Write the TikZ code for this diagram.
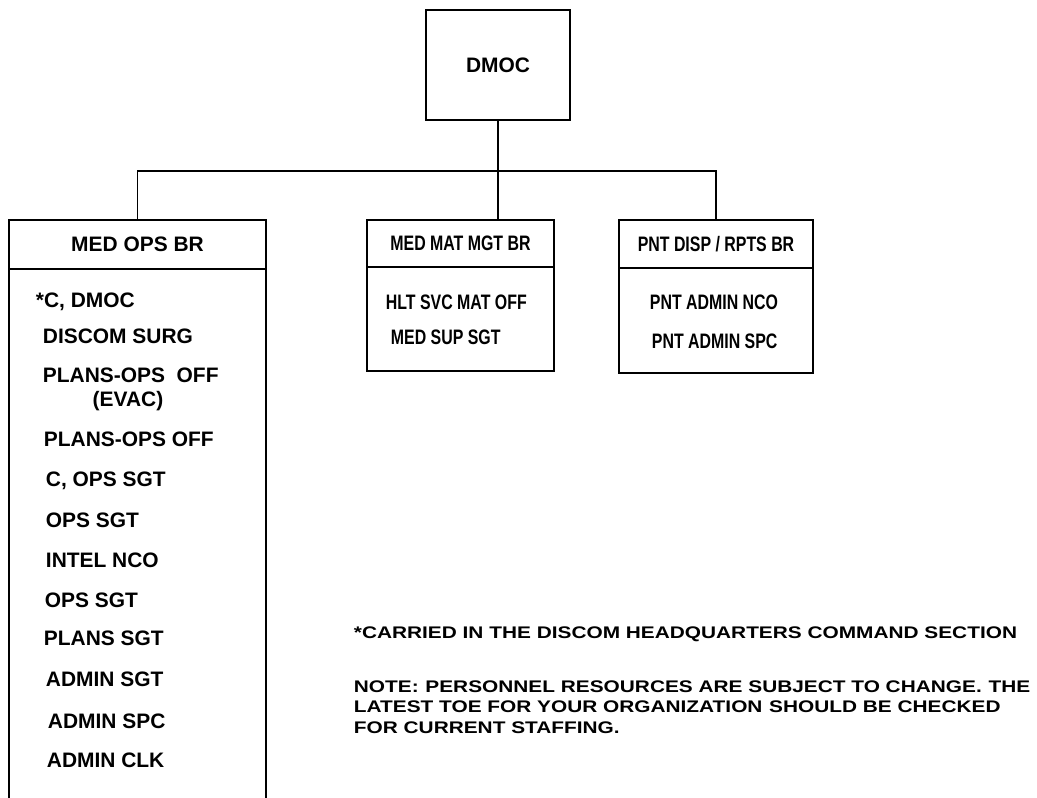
\documentclass[tikz,border=0pt]{standalone}
\usepackage{fontspec}
\setmainfont{Liberation Sans}
\newfontfamily\narrowsans{Liberation Sans}[FakeStretch=0.76]
\newfontfamily\widesans{Liberation Sans}[FakeStretch=1.24]
\usetikzlibrary{positioning}

\begin{document}
\begin{tikzpicture}[x=0.75pt,y=-0.75pt,line width=1.4pt,
  box/.style={draw,rectangle,inner sep=0pt,outer sep=0pt,align=center,
    font=\fontsize{15.7}{18}\selectfont\bfseries},
  narrowbox/.style={box,font=\narrowsans\fontsize{15.7}{18}\selectfont\bfseries},
  post/.style={anchor=base west,inner sep=0pt,font=\fontsize{15.7}{18}\selectfont\bfseries},
  narrowpost/.style={post,font=\narrowsans\fontsize{15.7}{18}\selectfont\bfseries},
  remark/.style={anchor=base west,inner sep=0pt,font=\widesans\fontsize{12.6}{15.4}\selectfont\bfseries}]
\useasboundingbox (0,0) rectangle (1037,798);

% head office
\node[box,minimum width=108pt,minimum height=82.5pt] (dmoc) at (498,65) {DMOC};

% branch headers
\node[box,minimum width=192.75pt,minimum height=36.75pt] (medops) at (137.5,244.5) {MED OPS BR};
\node[narrowbox,minimum width=140.25pt,minimum height=35.25pt] (medmat) at (460.5,243.5) {MED MAT MGT BR};
\node[narrowbox,minimum width=145.5pt,minimum height=36pt] (pntdisp) at (716,244) {PNT DISP / RPTS BR};

% branch bodies
\node[box,minimum width=140.25pt,minimum height=78pt,below=0pt of medmat] (medmatlist) {};
\node[box,minimum width=145.5pt,minimum height=78.75pt,below=0pt of pntdisp] (pntlist) {};
\coordinate (opsbottom) at (137.5,798);
\draw (medops.south west) -- (medops.south west |- opsbottom);
\draw (medops.south east) -- (medops.south east |- opsbottom);

% wiring
\coordinate (bus) at (498,171);
\draw (dmoc.south) -- (dmoc.south |- medmat.north);
\draw (medops.north) |- (bus) -| (pntdisp.north);

% MED OPS BR staff
\node[post] (ops1) at (35,307) {*C, DMOC};
\node[post] (ops2) at (42,343) {DISCOM SURG};
\node[post] (ops3) at (42,382) {PLANS-OPS\ \ OFF};
\node[post,anchor=base] (ops3b) at (128,406) {(EVAC)};
\node[post] (ops4) at (43,446) {PLANS-OPS OFF};
\node[post] (ops5) at (45,486) {C, OPS SGT};
\node[post] (ops6) at (45,527) {OPS SGT};
\node[post] (ops7) at (45,567) {INTEL NCO};
\node[post] (ops8) at (44,607) {OPS SGT};
\node[post] (ops9) at (43,645) {PLANS SGT};
\node[post] (ops10) at (45,686) {ADMIN SGT};
\node[post] (ops11) at (47,728) {ADMIN SPC};
\node[post] (ops12) at (46,767) {ADMIN CLK};

% MED MAT MGT BR staff
\node[narrowpost] (mat1) at (385,309) {HLT SVC MAT OFF};
\node[narrowpost] (mat2) at (390,344) {MED SUP SGT};

% PNT DISP / RPTS BR staff
\node[narrowpost] (pnt1) at (649,309) {PNT ADMIN NCO};
\node[narrowpost] (pnt2) at (651,348) {PNT ADMIN SPC};

% footnotes
\node[remark] (carried) at (353,638) {*CARRIED IN THE DISCOM HEADQUARTERS COMMAND SECTION};
\node[remark] (note1) at (353,692) {NOTE:\hspace{0.4em}PERSONNEL RESOURCES ARE SUBJECT TO CHANGE.\hspace{0.4em}THE};
\node[remark] (note2) at (353,712) {LATEST TOE FOR YOUR ORGANIZATION\hspace{0.4em}SHOULD BE CHECKED};
\node[remark] (note3) at (353,733) {FOR CURRENT STAFFING.};
\end{tikzpicture}
\end{document}
